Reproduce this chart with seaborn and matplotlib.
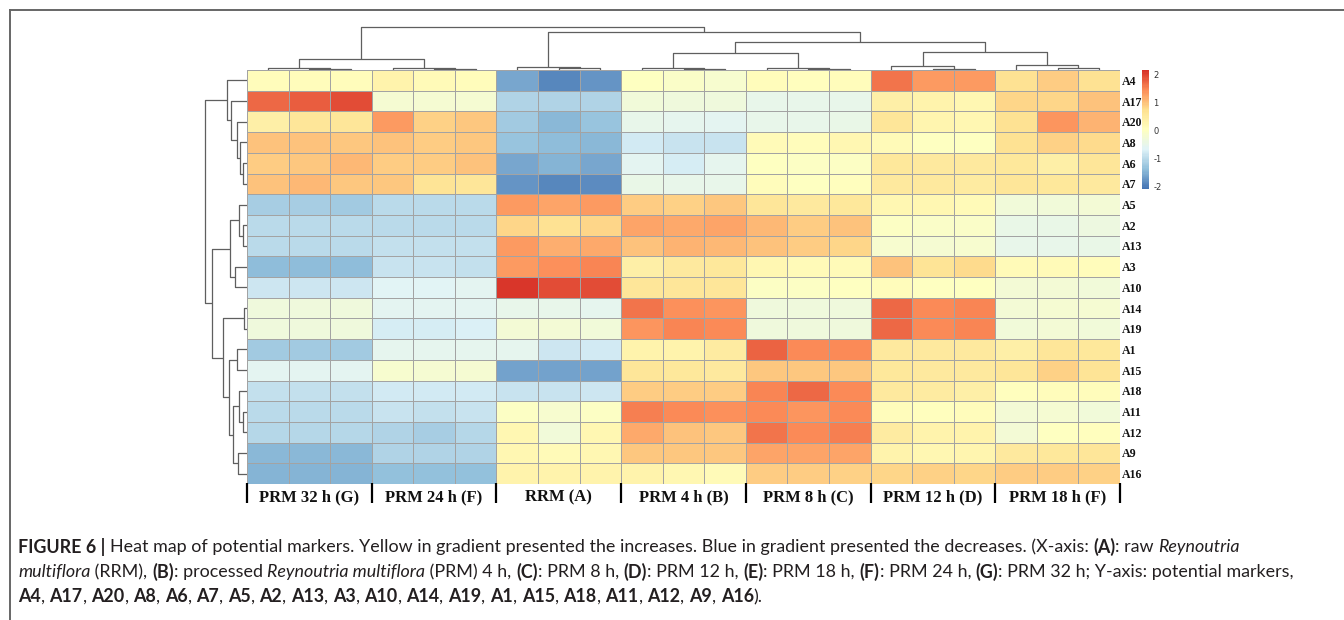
import numpy as np
import pandas as pd
import seaborn as sns
import matplotlib
matplotlib.use("Agg")
import matplotlib.pyplot as plt
from matplotlib.colors import LinearSegmentedColormap
from matplotlib.lines import Line2D
from matplotlib import font_manager

plt.rcParams["axes.unicode_minus"] = False

# ---------------- data ----------------
row_labels = ["A4", "A17", "A20", "A8", "A6", "A7", "A5", "A2", "A13", "A3",
              "A10", "A14", "A19", "A1", "A15", "A18", "A11", "A12", "A9", "A16"]
group_labels = ["PRM 32 h (G)", "PRM 24 h (F)", "RRM (A)", "PRM 4 h (B)",
                "PRM 8 h (C)", "PRM 12 h (D)", "PRM 18 h (F)"]

# three replicates per group, rows in the order of row_labels
vals_G = [(0.1, 0.1, 0.1), (1.7, 1.8, 1.9), (0.4, 0.6, 0.6), (1.0, 1.0, 0.95),
          (0.9, 0.95, 1.05), (1.0, 1.05, 0.95), (-1.2, -1.2, -1.25), (-1.0, -1.0, -1.0),
          (-1.0, -1.0, -1.0), (-1.4, -1.4, -1.4), (-0.85, -0.85, -0.85), (-0.35, -0.35, -0.35),
          (-0.35, -0.35, -0.35), (-1.25, -1.25, -1.25), (-0.6, -0.6, -0.6), (-0.95, -0.95, -0.95),
          (-1.0, -1.0, -1.0), (-1.05, -1.05, -1.05), (-1.45, -1.45, -1.45), (-1.5, -1.5, -1.5)]
vals_F = [(0.3, 0.15, 0.1), (-0.2, -0.2, -0.2), (1.3, 0.85, 0.95), (1.0, 0.9, 0.95),
          (0.9, 0.9, 1.0), (0.95, 0.65, 0.6), (-1.0, -1.0, -1.0), (-1.0, -1.0, -1.0),
          (-0.95, -0.95, -0.95), (-0.9, -0.9, -0.95), (-0.65, -0.65, -0.6), (-0.6, -0.6, -0.6),
          (-0.75, -0.75, -0.7), (-0.55, -0.55, -0.55), (-0.15, -0.2, -0.2), (-0.8, -0.8, -0.8),
          (-0.9, -0.95, -0.9), (-1.1, -1.2, -1.05), (-1.1, -1.1, -1.1), (-1.35, -1.35, -1.35)]
vals_A = [(-1.6, -1.9, -1.8), (-1.1, -1.1, -1.1), (-1.25, -1.45, -1.3), (-1.3, -1.4, -1.45),
          (-1.6, -1.5, -1.6), (-1.8, -1.9, -1.85), (1.3, 1.25, 1.3), (0.8, 0.7, 0.8),
          (1.3, 1.15, 1.2), (1.3, 1.4, 1.5), (2.1, 1.9, 1.9), (-0.5, -0.5, -0.55),
          (-0.25, -0.25, -0.3), (-0.55, -0.85, -0.8), (-1.65, -1.65, -1.65), (-0.9, -0.9, -0.85),
          (-0.05, -0.15, -0.05), (0.2, -0.3, 0.2), (0.2, 0.15, 0.2), (0.3, 0.3, 0.3)]
vals_B = [(0.0, -0.1, -0.15), (-0.3, -0.35, -0.35), (-0.5, -0.55, -0.6), (-0.8, -0.9, -0.9),
          (-0.6, -0.75, -0.55), (-0.45, -0.5, -0.5), (0.9, 0.85, 0.95), (1.25, 1.2, 1.25),
          (1.0, 1.1, 1.05), (0.4, 0.5, 0.55), (0.6, 0.6, 0.6), (1.6, 1.4, 1.35),
          (1.35, 1.5, 1.45), (0.3, 0.3, 0.45), (0.6, 0.55, 0.5), (0.9, 0.9, 0.9),
          (1.55, 1.45, 1.4), (1.2, 1.0, 0.95), (0.95, 0.95, 0.95), (0.3, 0.2, 0.15)]
vals_C = [(0.1, 0.05, 0.1), (-0.5, -0.5, -0.5), (-0.5, -0.5, -0.45), (0.15, 0.1, 0.2),
          (0.0, -0.05, -0.05), (0.1, 0.0, 0.05), (0.6, 0.5, 0.55), (1.05, 0.9, 1.0),
          (1.0, 0.9, 0.8), (0.2, 0.15, 0.15), (-0.05, -0.05, 0.0), (-0.35, -0.35, -0.35),
          (-0.35, -0.35, -0.35), (1.75, 1.45, 1.45), (0.95, 0.95, 0.95), (1.5, 1.7, 1.45),
          (1.45, 1.35, 1.45), (1.6, 1.45, 1.55), (1.25, 1.25, 1.25), (0.9, 0.9, 0.85)]
vals_D = [(1.6, 1.3, 1.3), (0.4, 0.3, 0.2), (0.6, 0.25, 0.2), (0.15, 0.0, 0.0),
          (0.55, 0.5, 0.5), (0.5, 0.5, 0.45), (0.2, 0.2, 0.15), (-0.05, -0.1, -0.1),
          (-0.15, -0.2, -0.15), (1.0, 0.65, 0.75), (0.1, 0.0, 0.0), (1.7, 1.45, 1.5),
          (1.7, 1.45, 1.5), (0.5, 0.5, 0.5), (0.55, 0.5, 0.5), (0.5, 0.45, 0.4),
          (0.1, 0.05, 0.1), (0.45, 0.3, 0.3), (0.3, 0.2, 0.25), (0.8, 0.85, 0.8)]
vals_E = [(0.7, 0.9, 0.7), (0.8, 0.8, 1.0), (0.7, 1.35, 1.1), (0.7, 0.85, 0.75),
          (0.55, 0.4, 0.6), (0.6, 0.55, 0.5), (-0.3, -0.3, -0.25), (-0.45, -0.45, -0.4),
          (-0.5, -0.5, -0.45), (0.15, 0.15, 0.1), (-0.25, -0.25, -0.3), (-0.25, -0.2, -0.2),
          (-0.3, -0.25, -0.3), (0.4, 0.6, 0.55), (0.6, 0.85, 0.65), (0.05, 0.1, 0.1),
          (-0.25, -0.2, -0.3), (-0.25, 0.0, 0.05), (0.5, 0.55, 0.6), (0.9, 0.9, 0.85)]

# dendrogram trees (leaf = display index, node = (left, right, height))
col_tree = (((0, (1, 2, 1.0), 2.0), (3, (4, 5, 1.0), 2.0), 11.0),
            ((6, (7, 8, 2.0), 3.0),
             (((9, (10, 11, 1.5), 2.5), (12, (13, 14, 1.5), 2.5), 17.0),
              ((15, (16, 17, 1.5), 4.0), (18, (19, 20, 2.0), 5.5), 18.0), 28.0), 38.0), 43.0)
row_top = (0, (1, (2, (3, (4, 5, 4.0), 7.0), 10.0), 16.0), 20.0)
row_P = ((6, (7, 8, 4.0), 8.0), (9, 10, 12.0), 17.0)
row_Q = ((11, 12, 3.0), ((13, 14, 10.0), ((15, (16, 17, 4.0), 8.0), (18, 19, 9.0), 14.0), 18.0), 24.0)
row_tree = (row_top, (row_P, row_Q, 35.0), 42.0)

# ---------------- build matrix ----------------
groups = [vals_G, vals_F, vals_A, vals_B, vals_C, vals_D, vals_E]
mat = np.hstack([np.array(g) for g in groups])
col_names = [f"{lab} #{k+1}" for lab in group_labels for k in range(3)]
df = pd.DataFrame(mat, index=row_labels, columns=col_names)

# ---------------- figure ----------------
W, H = 1344, 620
fig = plt.figure(figsize=(W / 100, H / 100), dpi=100)
fig.patch.set_facecolor("white")


def axes_px(l, t, r, b):
    return fig.add_axes([l / W, 1 - b / H, (r - l) / W, (b - t) / H])


cmap = LinearSegmentedColormap.from_list(
    "pheat", ["#4575B4", "#91BFDB", "#E0F3F8", "#FFFFBF", "#FEE090", "#FC8D59", "#D73027"], N=100)

hm_ax = axes_px(247, 70, 1120, 484)
cb_ax = axes_px(1142, 70, 1149, 189)
sns.heatmap(df, ax=hm_ax, cmap=cmap, vmin=-2.1, vmax=2.15, linewidths=0.6,
            linecolor="#a3a3a3", cbar_ax=cb_ax, cbar_kws={"ticks": [-2, -1, 0, 1, 2]})

serif = "Liberation Serif"
# row labels on the right
hm_ax.yaxis.tick_right()
hm_ax.set_yticks(np.arange(len(row_labels)) + 0.5)
hm_ax.set_yticklabels(row_labels, rotation=0, fontfamily=serif, fontweight="bold",
                      fontsize=8.6, color="#111111")
hm_ax.tick_params(axis="y", length=0, pad=1.5)
# group labels
n_rep = 3
hm_ax.set_xticks(np.arange(len(group_labels)) * n_rep + n_rep / 2)
hm_ax.set_xticklabels(group_labels, rotation=0, fontfamily=serif, fontweight="bold",
                      fontsize=12, color="#111111")
hm_ax.tick_params(axis="x", length=0, pad=4)
hm_ax.set_xlabel("")
hm_ax.set_ylabel("")
for b in range(len(group_labels) + 1):
    hm_ax.plot([b * n_rep, b * n_rep], [0.003, -0.046], transform=hm_ax.get_xaxis_transform(),
               color="black", lw=1.6, clip_on=False, solid_capstyle="butt")

# colorbar styling
cbar = hm_ax.collections[0].colorbar
cbar.outline.set_visible(False)
cb_ax.tick_params(length=0, labelsize=6, pad=3, labelcolor="#333333")


# ---------------- dendrograms ----------------
def draw_tree(ax, node, orient):
    if isinstance(node, int):
        return node + 0.5, 0.0
    left, right, h = node
    xl, hl = draw_tree(ax, left, orient)
    xr, hr = draw_tree(ax, right, orient)
    pos = [xl, xl, xr, xr]
    hts = [hl, h, h, hr]
    if orient == "top":
        ax.plot(pos, hts, color="#5f5f5f", lw=0.9, solid_capstyle="butt")
    else:
        ax.plot(hts, pos, color="#5f5f5f", lw=0.9, solid_capstyle="butt")
    return (xl + xr) / 2, h


top_ax = axes_px(247, 20, 1120, 70)
draw_tree(top_ax, col_tree, "top")
top_ax.set_xlim(0, 21)
top_ax.set_ylim(0, 50)
top_ax.axis("off")

left_ax = axes_px(197, 70, 247, 484)
draw_tree(left_ax, row_tree, "left")
left_ax.set_xlim(50, 0)
left_ax.set_ylim(20, 0)
left_ax.axis("off")

# ---------------- frame ----------------
fig.add_artist(Line2D([9.5 / W, 9.5 / W], [1 - 9.5 / H, 0], color="#666666", lw=1.4))
fig.add_artist(Line2D([9.5 / W, 1], [1 - 9.5 / H, 1 - 9.5 / H], color="#666666", lw=1.4))

# ---------------- caption ----------------
renderer = fig.canvas.get_renderer()
cap_color = "#231f20"

line1 = [("FIGURE 6 | ", "bold", "normal"),
         ("Heat map of potential markers. Yellow in gradient presented the increases. "
          "Blue in gradient presented the decreases. (X-axis: ", "normal", "normal"),
         ("(A)", "bold", "normal"), (": raw ", "normal", "normal"),
         ("Reynoutria", "normal", "italic")]
line2 = [("multiflora", "normal", "italic"), (" (RRM), ", "normal", "normal"),
         ("(B)", "bold", "normal"), (": processed ", "normal", "normal"),
         ("Reynoutria multiflora", "normal", "italic"), (" (PRM) 4 h, ", "normal", "normal"),
         ("(C)", "bold", "normal"), (": PRM 8 h, ", "normal", "normal"),
         ("(D)", "bold", "normal"), (": PRM 12 h, ", "normal", "normal"),
         ("(E)", "bold", "normal"), (": PRM 18 h, ", "normal", "normal"),
         ("(F)", "bold", "normal"), (": PRM 24 h, ", "normal", "normal"),
         ("(G)", "bold", "normal"), (": PRM 32 h; Y-axis: potential markers,", "normal", "normal")]
line3 = []
for i, lab in enumerate(row_labels):
    line3.append((lab, "bold", "normal"))
    line3.append((", " if i < len(row_labels) - 1 else ").", "normal", "normal"))

lines = [line1, line2, line3]
targets = [1272.0, 1268.0, 780.0]
weights = [1.0, 1.0, 0.5]


def seg_width(text, size, weight, style, fam):
    t1 = fig.text(0, 0, "x" + text + "x", fontsize=size, fontweight=weight, fontstyle=style,
                  family=fam)
    t2 = fig.text(0, 0, "xx", fontsize=size, fontweight=weight, fontstyle=style, family=fam)
    w = t1.get_window_extent(renderer).width - t2.get_window_extent(renderer).width
    t1.remove()
    t2.remove()
    return w


def line_width(segs, size, fam):
    return sum(seg_width(s, size, w, st, fam) for s, w, st in segs)


candidates = []
for f in ["Liberation Sans", "Roboto", "Lato", "Inter", "Open Sans", "Noto Sans"]:
    try:
        font_manager.findfont(f, fallback_to_default=False)
        candidates.append(f)
    except Exception:
        pass
if not candidates:
    candidates = ["DejaVu Sans"]

base = 10.0
best = None
for fam in candidates:
    r = [line_width(ln, base, fam) / t for ln, t in zip(lines, targets)]
    s = sum(wt * ri for wt, ri in zip(weights, r)) / sum(wt * ri * ri for wt, ri in zip(weights, r))
    # never let lines 1-2 exceed the available width
    s = min(s, 1.0 / max(r[0], r[1]))
    res = sum(wt * (s * ri - 1) ** 2 for wt, ri in zip(weights, r))
    if best is None or res < best[0]:
        best = (res, fam, base * s)
_, cap_font, size = best


def draw_line(segs, x_px, y_px, size):
    x = x_px
    for s, w, st in segs:
        fig.text(x / W, 1 - y_px / H, s, fontsize=size, fontweight=w, fontstyle=st,
                 family=cap_font, va="center", ha="left", color=cap_color)
        x += seg_width(s, size, w, st, cap_font)


draw_line(line1, 18, 547, size)
draw_line(line2, 18, 572, size)
draw_line(line3, 18, 597, size)

fig.savefig("out.png", dpi=100, facecolor="white")
